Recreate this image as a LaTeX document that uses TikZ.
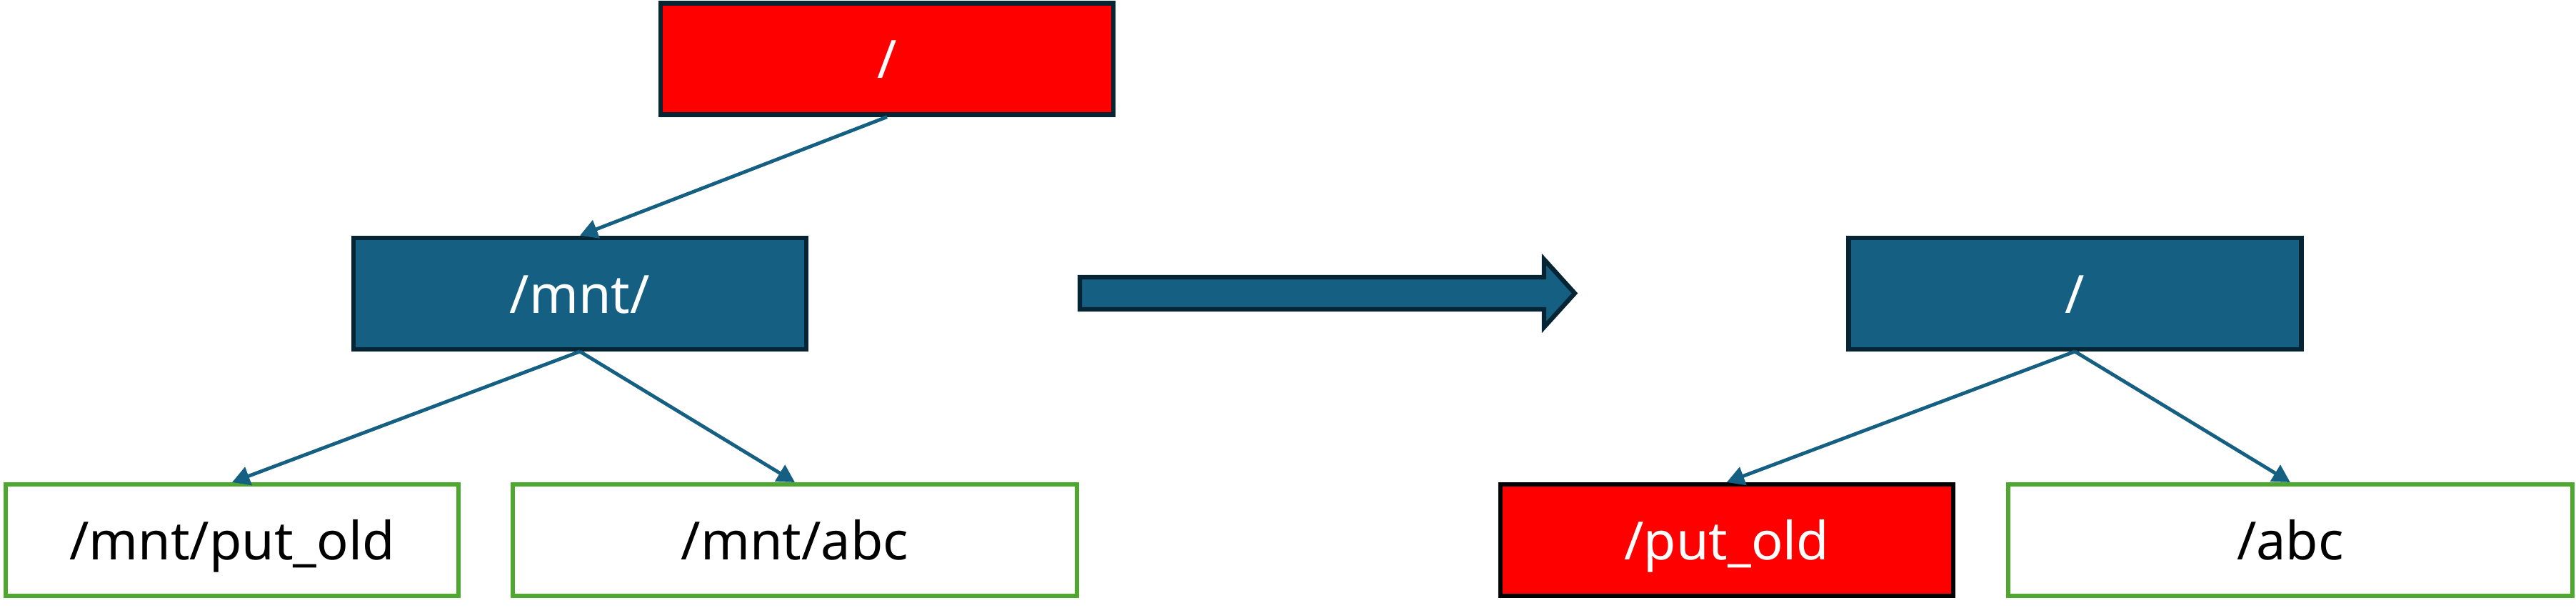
\documentclass[tikz,border=0pt]{standalone}
\usepackage{fontspec}
\setmainfont{Noto Sans}
\usetikzlibrary{arrows.meta, positioning}
\definecolor{nodeblue}{HTML}{156082}
\definecolor{edgenavy}{HTML}{062534}
\definecolor{dirred}{HTML}{FF0000}
\definecolor{keepgreen}{HTML}{4EA72E}
\tikzset{
    box/.style={rectangle, line width=1.8pt, minimum width=6.34cm, minimum height=1.56cm, inner sep=0pt, align=center, text height=15.5pt, text depth=0pt, font=\fontsize{21pt}{25pt}\selectfont},
    bluebox/.style={box, draw=edgenavy, fill=nodeblue, text=white},
    redbox/.style={box, draw=edgenavy, fill=dirred, text=white},
    greenbox/.style={box, draw=keepgreen, fill=white, text=black},
    linkarrow/.style={-{Triangle[length=7pt, width=7.5pt]}, line width=1.4pt, draw=nodeblue}
}

\begin{document}
\begin{tikzpicture}[node distance=1.66cm and 1.4cm]
    \useasboundingbox (0,0) rectangle (36.07,-8.57);
    \node[redbox] (root) at (12.42,-0.825) {/};
    \node[bluebox, below=of root, xshift=-4.30cm] (mnt) {/mnt/};
    \node[greenbox, below=1.83cm of mnt, xshift=-4.87cm] (mntold) {/mnt/put\_old};
    \node[greenbox, below=1.83cm of mnt, xshift=3.01cm, minimum width=7.90cm] (mntabc) {/mnt/abc};
    \node[bluebox, right=14.53cm of mnt] (newroot) {/};
    \node[redbox, draw=black, below=1.83cm of newroot, xshift=-4.875cm] (putold) {/put\_old};
    \node[greenbox, below=1.83cm of newroot, xshift=3.015cm, minimum width=7.90cm] (abc) {/abc};

    \draw[linkarrow] (root.south) -- (mnt.north);
    \draw[linkarrow] (mnt.south) -- (mntold.north);
    \draw[linkarrow] (mnt.south) -- (mntabc.north);
    \draw[linkarrow] (newroot.south) -- (putold.north);
    \draw[linkarrow] (newroot.south) -- (abc.north);

    % big block arrow between the two trees
    \draw[line width=1.8pt, draw=edgenavy, fill=nodeblue] (15.12,-3.88) -- (21.62,-3.88) -- (21.62,-3.63) -- (22.05,-4.105) -- (21.62,-4.58) -- (21.62,-4.33) -- (15.12,-4.33) -- cycle;
\end{tikzpicture}
\end{document}
